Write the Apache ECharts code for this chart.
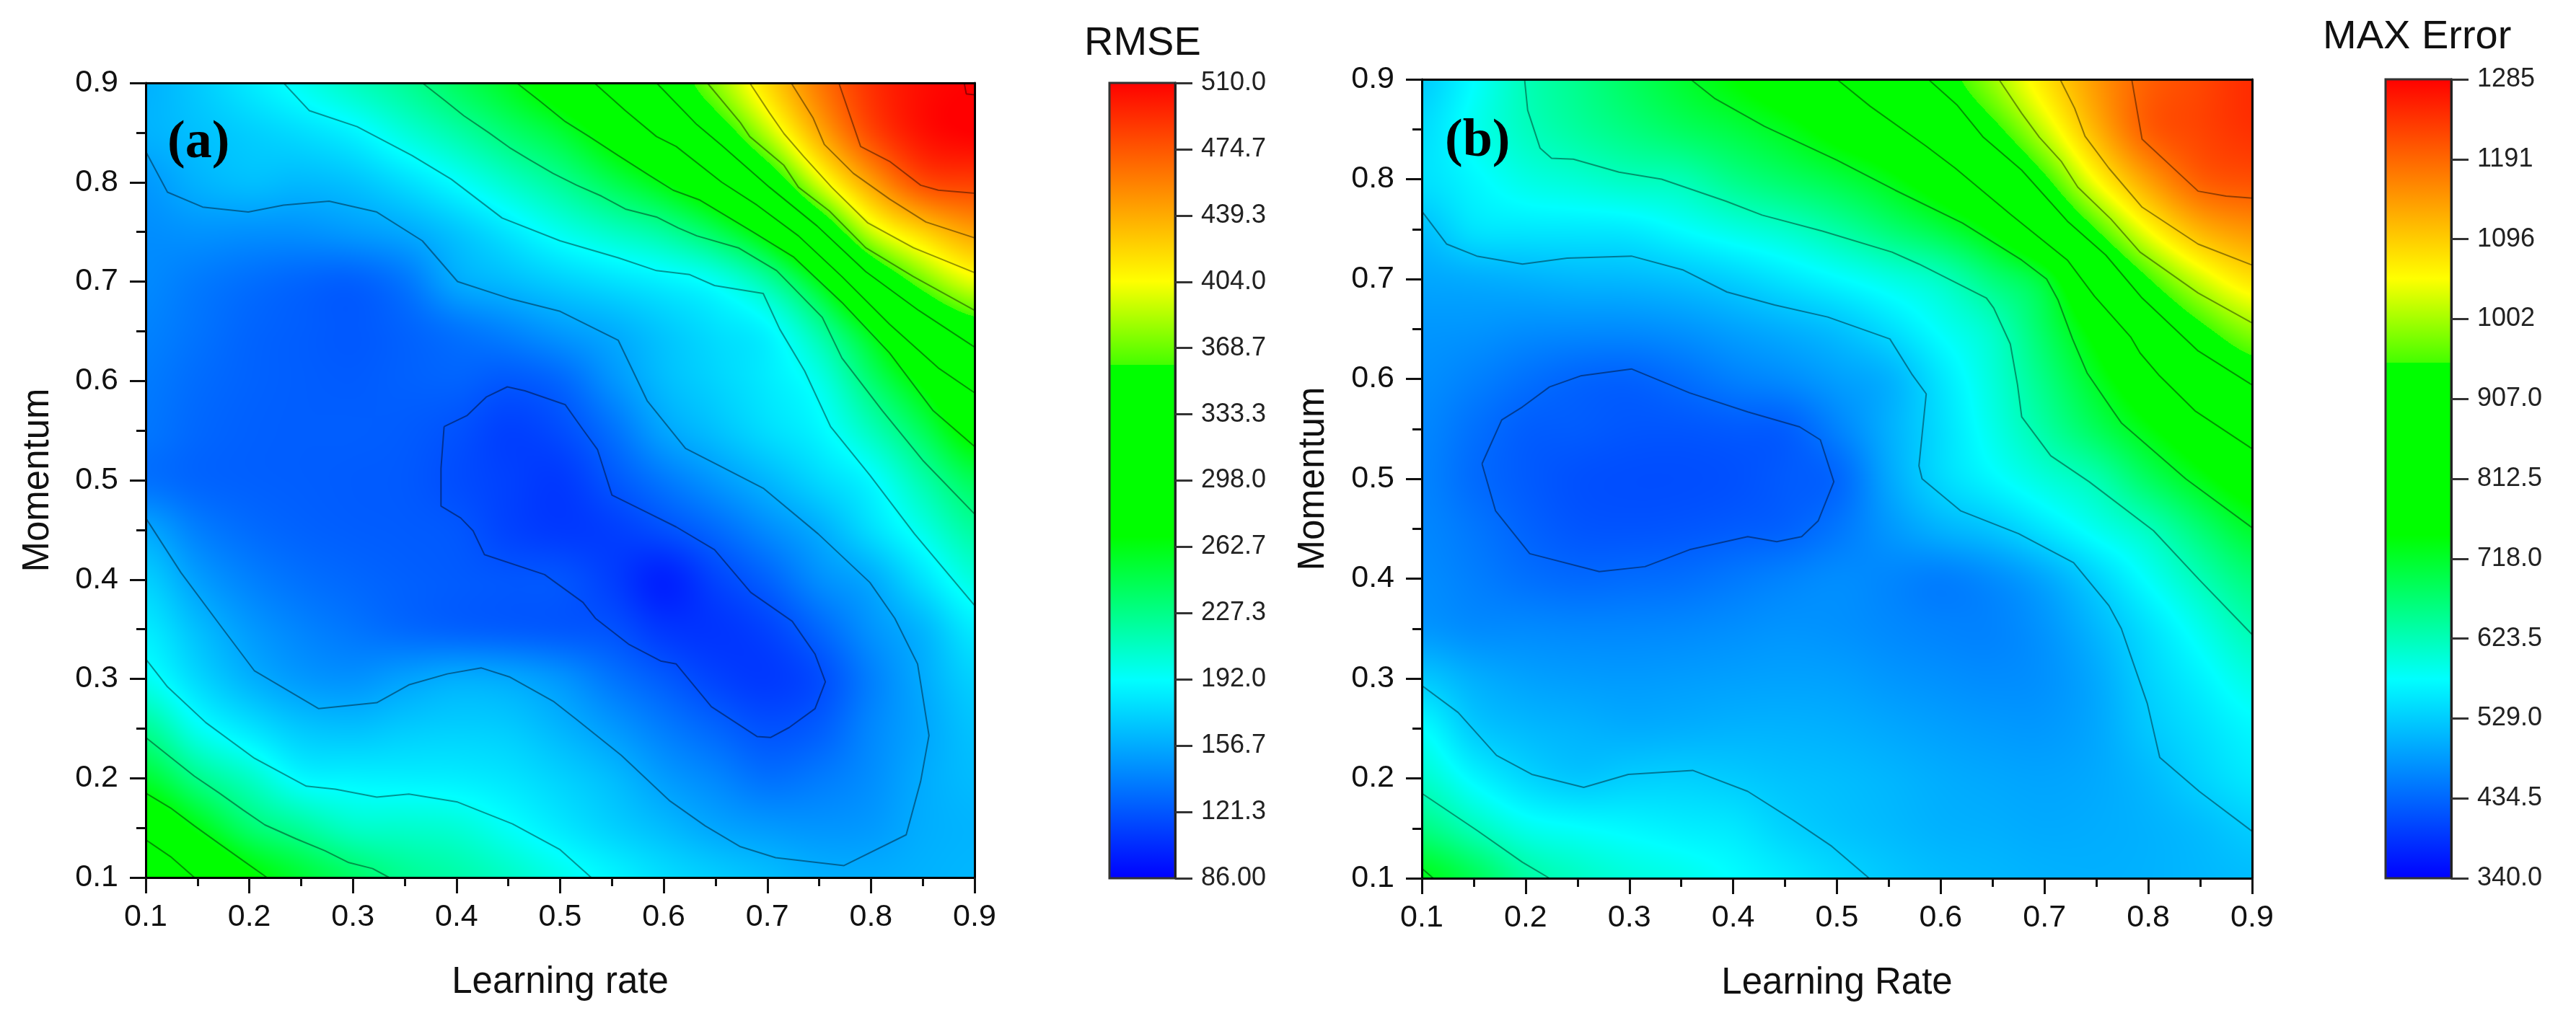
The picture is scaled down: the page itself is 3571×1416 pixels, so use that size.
<!DOCTYPE html>
<html>
<head>
<meta charset="utf-8">
<style>html,body{margin:0;background:#fff}</style>
<script src="https://cdn.jsdelivr.net/npm/echarts@6/dist/echarts.min.js"></script>
</head>
<body>
<div id="main" style="width:3571px;height:1416px"></div>
<script>
// measured nodes, rows run from momentum 0.9 down to 0.1
var gridX = [0.1,0.15,0.2,0.25,0.3,0.35,0.4,0.45,0.5,0.55,0.6,0.65,0.7,0.75,0.8,0.85,0.9];
var gridY = [0.9,0.85,0.8,0.75,0.7,0.65,0.6,0.55,0.5,0.45,0.4,0.35,0.3,0.25,0.2,0.15,0.1];

var rmseValues = [
  [160,170,183,196,210,223,240,258,282,308,339,376,419,460,490,505,510],
  [160,166,172,178,187,203,218,235,252,278,306,341,388,439,480,503,510],
  [150,160,165,163,167,178,192,208,224,244,265,294,336,395,443,478,484],
  [145,147,146,146,150,156,168,182,197,209,221,242,275,329,390,422,443],
  [143,137,132,128,126,135,156,164,172,179,186,196,219,262,324,369,398],
  [140,134,128,125,123,127,134,141,150,158,169,179,189,220,264,315,345],
  [137,131,127,125,124,126,127,123,129,147,164,174,184,199,235,272,310],
  [135,129,126,125,125,124,120,113,118,133,154,166,178,189,212,242,278],
  [133,128,126,125,124,123,118,113,110,122,136,149,162,176,190,217,243],
  [155,139,131,127,125,124,122,114,110,112,119,130,144,158,178,199,221],
  [172,152,140,133,129,126,124,122,121,112,100,114,127,145,157,180,202],
  [184,165,150,141,135,130,127,125,123,120,109,108,114,129,147,162,184],
  [196,176,160,150,147,153,158,156,148,135,124,114,110,118,139,157,173],
  [223,196,181,169,166,170,172,170,161,150,138,128,120,125,142,155,167],
  [253,227,209,190,187,186,185,181,173,164,151,142,133,137,145,157,164],
  [289,263,236,222,209,207,204,194,183,173,164,155,150,148,150,158,161],
  [318,297,271,253,238,225,218,209,198,188,178,171,165,159,158,160,162]
];

var maxErrorValues = [
  [530,576,624,653,683,713,745,779,812,866,923,993,1072,1144,1197,1220,1245],
  [545,585,618,641,662,683,703,729,766,803,861,933,1022,1120,1198,1222,1240],
  [548,570,593,605,618,626,655,678,701,733,782,845,939,1051,1138,1197,1212],
  [518,550,555,556,559,576,595,612,637,669,702,752,843,950,1050,1120,1148],
  [495,500,505,510,512,520,534,553,573,594,618,665,716,843,947,1025,1075],
  [480,478,472,470,470,477,490,503,519,546,581,616,683,766,862,937,991],
  [472,460,445,434,431,442,458,469,487,505,553,601,659,724,793,857,914],
  [465,445,428,425,420,420,424,428,461,502,545,590,637,687,738,790,842],
  [462,440,425,415,412,412,415,424,436,494,540,570,600,629,683,732,777],
  [465,450,432,420,418,420,425,431,450,480,505,523,553,587,620,670,718],
  [470,458,445,438,440,443,452,462,470,465,458,470,495,535,580,624,665],
  [480,470,468,465,465,467,472,477,475,468,462,462,478,510,549,589,628],
  [525,502,490,485,483,485,488,490,488,480,474,470,475,497,535,565,595],
  [575,528,512,505,500,502,505,505,502,495,488,483,482,495,525,548,570],
  [610,570,540,525,531,533,528,520,515,508,500,495,492,497,512,535,555],
  [660,623,590,578,570,562,555,535,522,513,505,502,498,500,505,515,530],
  [730,690,640,616,600,590,575,558,540,525,515,510,505,503,505,510,515]
];

// contour polylines [learning rate, momentum]
var rmseContours = [
  [[.388,.554],[.41,.565],[.429,.584],[.449,.594],[.466,.59],[.505,.576],[.522,.551],[.536,.531],[.55,.485],[.581,.469],[.612,.453],[.649,.43],[.684,.387],[.724,.358],[.746,.325],[.756,.297],[.746,.27],[.721,.251],[.703,.241],[.69,.242],[.646,.272],[.612,.315],[.597,.318],[.566,.335],[.534,.361],[.522,.377],[.485,.405],[.427,.425],[.416,.449],[.404,.462],[.385,.474],[.385,.512],[.388,.554]],
  [[.1,.831],[.121,.79],[.155,.775],[.199,.77],[.233,.777],[.277,.781],[.323,.77],[.367,.741],[.401,.7],[.451,.683],[.5,.67],[.556,.641],[.584,.58],[.621,.532],[.653,.515],[.696,.492],[.749,.446],[.799,.397],[.823,.361],[.845,.315],[.856,.243],[.848,.197],[.834,.143],[.774,.112],[.708,.12],[.674,.131],[.64,.152],[.606,.177],[.559,.223],[.516,.259],[.494,.277],[.451,.302],[.424,.311],[.391,.305],[.354,.294],[.323,.276],[.267,.27],[.205,.308],[.174,.351],[.134,.407],[.1,.462]],
  [[.233,.9],[.258,.872],[.304,.856],[.357,.827],[.395,.803],[.444,.764],[.5,.741],[.556,.724],[.593,.711],[.625,.707],[.649,.696],[.696,.688],[.712,.652],[.736,.61],[.761,.554],[.799,.505],[.842,.446],[.9,.374]],
  [[.1,.32],[.121,.292],[.158,.256],[.205,.22],[.255,.192],[.283,.189],[.323,.181],[.354,.184],[.401,.176],[.454,.154],[.5,.128],[.53,.1]],
  [[.367,.9],[.389,.882],[.407,.867],[.431,.85],[.451,.835],[.47,.823],[.493,.809],[.516,.797],[.54,.786],[.563,.773],[.593,.765],[.614,.754],[.632,.746],[.672,.734],[.709,.711],[.753,.664],[.772,.623],[.811,.57],[.85,.52],[.9,.466]],
  [[.1,.241],[.124,.221],[.147,.202],[.171,.185],[.194,.168],[.215,.153],[.245,.139],[.273,.127],[.296,.115],[.319,.109],[.335,.1]],
  [[.458,.9],[.479,.883],[.505,.861],[.528,.846],[.556,.827],[.586,.807],[.609,.792],[.635,.782],[.686,.75],[.725,.725],[.772,.679],[.818,.628],[.86,.57],[.9,.534]],
  [[.1,.185],[.124,.17],[.147,.152],[.171,.134],[.194,.117],[.217,.1]],
  [[.533,.9],[.563,.872],[.593,.846],[.612,.836],[.656,.8],[.69,.777],[.73,.746],[.772,.705],[.818,.657],[.865,.613],[.9,.588]],
  [[.1,.138],[.124,.121],[.147,.1]],
  [[.593,.9],[.632,.858],[.656,.837],[.702,.795],[.748,.756],[.795,.71],[.846,.671],[.9,.634]],
  [[.642,.9],[.674,.86],[.683,.846],[.716,.817],[.73,.795],[.76,.771],[.795,.734],[.841,.705],[.9,.671]],
  [[.683,.9],[.702,.87],[.716,.849],[.735,.826],[.762,.795],[.797,.759],[.841,.734],[.9,.709]],
  [[.723,.9],[.744,.865],[.755,.838],[.783,.809],[.818,.783],[.853,.76],[.9,.744]],
  [[.769,.9],[.79,.836],[.818,.821],[.848,.797],[.865,.792],[.9,.789]],
  [[.89,.9],[.892,.889],[.9,.888]]
];

var maxErrorContours = [
  [[.158,.515],[.177,.559],[.197,.572],[.223,.592],[.253,.603],[.302,.61],[.358,.586],[.414,.567],[.464,.552],[.484,.539],[.497,.497],[.482,.458],[.466,.442],[.442,.437],[.414,.442],[.358,.429],[.315,.412],[.271,.407],[.204,.425],[.171,.468],[.158,.515]],
  [[.1,.768],[.124,.735],[.153,.723],[.197,.715],[.24,.721],[.302,.723],[.352,.709],[.394,.687],[.44,.674],[.491,.662],[.551,.64],[.572,.605],[.586,.585],[.579,.513],[.582,.5],[.619,.468],[.675,.445],[.728,.416],[.762,.373],[.774,.35],[.799,.275],[.811,.221],[.849,.187],[.9,.147]],
  [[.1,.293],[.135,.266],[.172,.223],[.206,.204],[.256,.191],[.299,.204],[.361,.208],[.414,.187],[.458,.158],[.495,.132],[.531,.1]],
  [[.199,.9],[.202,.869],[.214,.831],[.225,.821],[.246,.82],[.29,.807],[.331,.8],[.393,.778],[.428,.764],[.486,.748],[.553,.727],[.579,.715],[.644,.681],[.651,.671],[.667,.635],[.674,.594],[.678,.562],[.706,.523],[.743,.497],[.805,.448],[.849,.399],[.9,.344]],
  [[.1,.185],[.153,.148],[.197,.116],[.223,.1]],
  [[.359,.9],[.382,.881],[.43,.853],[.5,.819],[.556,.789],[.621,.756],[.678,.719],[.702,.7],[.713,.679],[.727,.64],[.741,.606],[.766,.568],[.774,.556],[.836,.5],[.9,.451]],
  [[.1,.11],[.111,.1]],
  [[.5,.9],[.532,.873],[.586,.833],[.614,.811],[.667,.765],[.722,.719],[.748,.683],[.783,.642],[.792,.626],[.81,.604],[.845,.568],[.9,.53]],
  [[.588,.9],[.616,.874],[.641,.842],[.678,.809],[.722,.758],[.759,.724],[.794,.681],[.848,.628],[.9,.594]],
  [[.656,.9],[.678,.866],[.695,.842],[.716,.818],[.732,.792],[.764,.76],[.792,.727],[.848,.686],[.9,.656]],
  [[.715,.9],[.729,.871],[.739,.843],[.762,.811],[.794,.772],[.848,.735],[.9,.714]],
  [[.784,.9],[.794,.84],[.848,.788],[.875,.783],[.9,.781]]
];

var rmseTicks = ['86.00','121.3','156.7','192.0','227.3','262.7','298.0','333.3','368.7','404.0','439.3','474.7','510.0'];
var maxErrorTicks = ['340.0','434.5','529.0','623.5','718.0','812.5','907.0','1002','1096','1191','1285'];

// Origin style rainbow, the hard step above green is in the original
var colorStops = [
  [0,'#0000ff'],[0.25,'#00ffff'],[0.43,'#00ff00'],[0.645,'#00ff00'],[0.645,'#44ff00'],[0.75,'#ffff00'],[1,'#ff0000']
];

var sansFont = '"Liberation Sans", Arial, sans-serif';

function hexRgb(h) {
  return [parseInt(h.substr(1,2),16), parseInt(h.substr(3,2),16), parseInt(h.substr(5,2),16)];
}
var stopRgb = colorStops.map(function (s) { return hexRgb(s[1]); });

function colorAt(t) {
  t = Math.max(0, Math.min(1, t));
  for (var i = 1; i < colorStops.length; i++) {
    if (t <= colorStops[i][0] && colorStops[i][0] > colorStops[i-1][0]) {
      var f = (t - colorStops[i-1][0]) / (colorStops[i][0] - colorStops[i-1][0]);
      var a = stopRgb[i-1], b = stopRgb[i];
      return [a[0]+(b[0]-a[0])*f, a[1]+(b[1]-a[1])*f, a[2]+(b[2]-a[2])*f];
    }
  }
  return stopRgb[stopRgb.length-1];
}

function cr(p0,p1,p2,p3,t) {
  return p1 + 0.5*t*(p2-p0 + t*(2*p0-5*p1+4*p2-p3 + t*(3*(p1-p2)+p3-p0)));
}

// smooth the fill between measured nodes when painting, like the contour fill of the original
function sampleGrid(values, col, row) {
  var n = values.length - 1, ci = Math.min(Math.floor(col), n-1), ri = Math.min(Math.floor(row), n-1);
  var u = col-ci, v = row-ri, out = [];
  for (var r = -1; r <= 2; r++) {
    var line = values[Math.max(0, Math.min(n, ri+r))];
    out.push(cr(line[Math.max(0,ci-1)], line[ci], line[ci+1], line[Math.min(n,ci+2)], u));
  }
  return cr(out[0], out[1], out[2], out[3], v);
}

function cellCanvas(values, vMin, vMax, i, j, w, h) {
  var cv = document.createElement('canvas');
  cv.width = w; cv.height = h;
  var ctx = cv.getContext('2d'), img = ctx.createImageData(w, h), k = 0;
  for (var py = 0; py < h; py++) {
    for (var px = 0; px < w; px++) {
      var val = sampleGrid(values, i+(px+0.5)/w, j+(py+0.5)/h);
      var c = colorAt((val-vMin)/(vMax-vMin));
      img.data[k++] = c[0]; img.data[k++] = c[1]; img.data[k++] = c[2]; img.data[k++] = 255;
    }
  }
  ctx.putImageData(img, 0, 0);
  return cv;
}

function heatSeries(values, vMin, vMax, axisIdx) {
  var cells = [];
  for (var j = 0; j < gridY.length-1; j++) {
    for (var i = 0; i < gridX.length-1; i++) {
      cells.push([gridX[i], gridY[j], gridX[i+1], gridY[j+1], i, j]);
    }
  }
  return {
    type: 'custom', xAxisIndex: axisIdx, yAxisIndex: axisIdx, silent: true, clip: false, z: 1,
    encode: {x: [0,2], y: [1,3]},
    data: cells,
    renderItem: function (params, api) {
      var a = api.coord([api.value(0), api.value(1)]);
      var b = api.coord([api.value(2), api.value(3)]);
      var x0 = Math.round(a[0]), y0 = Math.round(a[1]), x1 = Math.round(b[0]), y1 = Math.round(b[1]);
      return {
        type: 'image',
        style: {
          image: cellCanvas(values, vMin, vMax, api.value(4), api.value(5), x1-x0, y1-y0),
          x: x0, y: y0, width: x1-x0, height: y1-y0
        }
      };
    }
  };
}

function contourSeries(lines, axisIdx) {
  return lines.map(function (pts) {
    return {
      type: 'line', xAxisIndex: axisIdx, yAxisIndex: axisIdx, data: pts, silent: true, z: 3,
      symbol: 'none', smooth: false,
      lineStyle: {color: '#000', width: 2, opacity: 0.42}
    };
  });
}

function barSeries(ticks, axisIdx) {
  return {
    type: 'custom', xAxisIndex: axisIdx, yAxisIndex: axisIdx, silent: true, z: 1,
    data: [[0, 0, 1, ticks.length-1]],
    encode: {x: [0,2], y: [1,3]},
    renderItem: function (params, api) {
      var a = api.coord([api.value(0), api.value(3)]);
      var b = api.coord([api.value(2), api.value(1)]);
      return {
        type: 'rect',
        shape: {x: a[0], y: a[1], width: b[0]-a[0], height: b[1]-a[1]},
        style: {
          fill: new echarts.graphic.LinearGradient(0, 1, 0, 0, colorStops.map(function (s) {
            return {offset: s[0], color: s[1]};
          })),
          stroke: '#333', lineWidth: 3
        }
      };
    }
  };
}

function fmt(v) { return v.toFixed(1); }

function mainX(gridIndex, name) {
  return {
    type: 'value', gridIndex: gridIndex, min: 0.1, max: 0.9, interval: 0.1, z: 10,
    name: name, nameLocation: 'middle', nameGap: 120,
    nameTextStyle: {fontFamily: sansFont, fontSize: 51, color: '#111'},
    axisLine: {onZero: false, lineStyle: {color: '#000', width: 3}},
    axisTick: {length: 22, lineStyle: {color: '#111', width: 3}},
    minorTick: {show: true, splitNumber: 2, length: 12, lineStyle: {color: '#111', width: 3}},
    axisLabel: {fontFamily: sansFont, fontSize: 43, color: '#111', margin: 34, formatter: fmt},
    splitLine: {show: false}
  };
}
function mainY(gridIndex, gap) {
  return {
    type: 'value', gridIndex: gridIndex, min: 0.1, max: 0.9, interval: 0.1, z: 10,
    name: 'Momentum', nameLocation: 'middle', nameGap: gap,
    nameTextStyle: {fontFamily: sansFont, fontSize: 51, color: '#111'},
    axisLine: {onZero: false, lineStyle: {color: '#000', width: 3}},
    axisTick: {length: 22, lineStyle: {color: '#111', width: 3}},
    minorTick: {show: true, splitNumber: 2, length: 13, lineStyle: {color: '#111', width: 3}},
    axisLabel: {fontFamily: sansFont, fontSize: 43, color: '#111', margin: 38, formatter: fmt},
    splitLine: {show: false}
  };
}
function frameAxis(gridIndex, pos) {
  return {
    type: 'value', gridIndex: gridIndex, position: pos, min: 0.1, max: 0.9, z: 10,
    axisLine: {show: true, onZero: false, lineStyle: {color: '#000', width: 3}},
    axisTick: {show: false}, axisLabel: {show: false}, splitLine: {show: false}
  };
}
function barX(gridIndex) {
  return {type: 'value', gridIndex: gridIndex, min: 0, max: 1, show: false};
}
function barY(gridIndex, ticks) {
  return {
    type: 'category', gridIndex: gridIndex, position: 'right', data: ticks, boundaryGap: false, z: 10,
    axisLine: {show: true, onZero: false, lineStyle: {color: '#222', width: 3}},
    axisTick: {show: true, length: 24, lineStyle: {color: '#333', width: 3}},
    axisLabel: {show: true, interval: 0, fontFamily: sansFont, fontSize: 36, color: '#222', margin: 36},
    splitLine: {show: false}
  };
}

var chart = echarts.init(document.getElementById('main'));
chart.setOption({
  backgroundColor: '#fff',
  animation: false,
  title: [
    {text: '(a)', left: 232, top: 162, padding: 0, textStyle: {fontFamily: '"Liberation Serif", serif', fontWeight: 'bold', fontSize: 74, color: '#000'}},
    {text: '(b)', left: 2003, top: 160, padding: 0, textStyle: {fontFamily: '"Liberation Serif", serif', fontWeight: 'bold', fontSize: 74, color: '#000'}},
    {text: 'RMSE', left: 1503, top: 33, padding: 0, textStyle: {fontFamily: sansFont, fontWeight: 'normal', fontSize: 56, color: '#111'}},
    {text: 'MAX Error', left: 3220, top: 24, padding: 0, textStyle: {fontFamily: sansFont, fontWeight: 'normal', fontSize: 56, color: '#111'}}
  ],
  grid: [
    {left: 202, top: 115, width: 1149, height: 1102},
    {left: 1971, top: 110, width: 1151, height: 1108},
    {left: 1538, top: 115, width: 91, height: 1103},
    {left: 3307, top: 110, width: 91, height: 1108}
  ],
  xAxis: [
    mainX(0, 'Learning rate'), frameAxis(0, 'top'),
    mainX(1, 'Learning Rate'), frameAxis(1, 'top'),
    barX(2), barX(3)
  ],
  yAxis: [
    mainY(0, 124), frameAxis(0, 'right'),
    mainY(1, 125), frameAxis(1, 'right'),
    barY(2, rmseTicks), barY(3, maxErrorTicks)
  ],
  series: [
    heatSeries(rmseValues, 86, 510, 0),
    heatSeries(maxErrorValues, 340, 1285, 2),
    barSeries(rmseTicks, 4),
    barSeries(maxErrorTicks, 5)
  ].concat(contourSeries(rmseContours, 0), contourSeries(maxErrorContours, 2))
});
</script>
</body>
</html>
